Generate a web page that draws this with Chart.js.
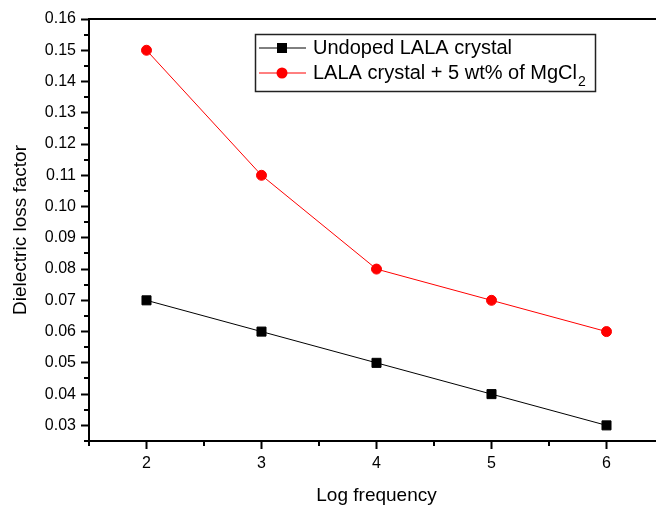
<!DOCTYPE html>
<html>
<head>
<meta charset="utf-8">
<script src="https://cdn.jsdelivr.net/npm/chart.js@4/dist/chart.umd.min.js"></script>
<style>
  html, body { margin: 0; padding: 0; background: #fff; }
  #wrap { width: 656px; height: 507px; overflow: hidden; }
</style>
</head>
<body>
<div id="wrap">
  <canvas id="chart" width="672" height="507"></canvas>
</div>
<script>
// log frequency values and loss factor for both samples
const logFreq = [2, 3, 4, 5, 6];
const undoped = [0.07, 0.06, 0.05, 0.04, 0.03];
const doped = [0.15, 0.11, 0.08, 0.07, 0.06];

const seriesNames = ['Undoped LALA crystal', 'LALA crystal + 5 wt% of MgCl'];
const xTicks = [2, 3, 4, 5, 6];
const xMinorTicks = [1.5, 2.5, 3.5, 4.5, 5.5, 6.5];
const yTicks = [0.03, 0.04, 0.05, 0.06, 0.07, 0.08, 0.09, 0.10, 0.11, 0.12, 0.13, 0.14, 0.15, 0.16];
const yMinorTicks = [0.025, 0.035, 0.045, 0.055, 0.065, 0.075, 0.085, 0.095, 0.105, 0.115, 0.125, 0.135, 0.145, 0.155];

const FONT = 'Liberation Sans, Arial, sans-serif';

// minor ticks, top frame line and the boxed legend
const decorations = {
  id: 'decorations',
  afterDraw(chart) {
    const ctx = chart.ctx;
    const area = chart.chartArea;
    const xs = chart.scales.x;
    const ys = chart.scales.y;
    ctx.save();
    ctx.strokeStyle = '#000';
    ctx.lineWidth = 2;
    ctx.beginPath();
    ctx.moveTo(area.left - 1, area.top);
    ctx.lineTo(area.right, area.top);
    xMinorTicks.forEach(v => {
      const px = Math.round(xs.getPixelForValue(v));
      ctx.moveTo(px, area.bottom);
      ctx.lineTo(px, area.bottom + 5);
    });
    yMinorTicks.forEach(v => {
      const py = Math.round(ys.getPixelForValue(v));
      ctx.moveTo(area.left, py);
      ctx.lineTo(area.left - 5, py);
    });
    ctx.stroke();

    // legend box
    const bx = 255.5, by = 34.5, bw = 340, bh = 57;
    ctx.lineWidth = 1.5;
    ctx.strokeStyle = '#222';
    ctx.strokeRect(bx, by, bw, bh);

    const rows = [48, 73];
    chart.data.datasets.forEach((ds, i) => {
      const y = rows[i];
      ctx.lineWidth = 1;
      ctx.strokeStyle = ds.borderColor;
      ctx.beginPath();
      ctx.moveTo(259, y);
      ctx.lineTo(306, y);
      ctx.stroke();
      ctx.fillStyle = ds.pointBackgroundColor;
      if (ds.pointStyle === 'rect') {
        ctx.fillRect(277, y - 5, 10, 10);
      } else {
        ctx.beginPath();
        ctx.arc(282, y, 5.5, 0, Math.PI * 2);
        ctx.fill();
      }
      ctx.fillStyle = '#000';
      ctx.font = '20px ' + FONT;
      ctx.textBaseline = 'middle';
      ctx.textAlign = 'left';
      ctx.fillText(seriesNames[i], 313, y);
      if (i === 1) {
        const w = ctx.measureText(seriesNames[i]).width;
        ctx.font = '14px ' + FONT;
        ctx.fillText('2', 313 + w + 1, y + 9);
      }
    });
    ctx.restore();
  }
};

new Chart(document.getElementById('chart'), {
  type: 'line',
  data: {
    datasets: [
      {
        label: seriesNames[0],
        data: logFreq.map((x, i) => ({ x: x, y: undoped[i] })),
        borderColor: '#000',
        backgroundColor: '#000',
        pointBackgroundColor: '#000',
        pointBorderColor: '#000',
        borderWidth: 1,
        pointStyle: 'rect',
        pointRadius: 6.4,
        pointBorderWidth: 1
      },
      {
        label: seriesNames[1] + '2',
        data: logFreq.map((x, i) => ({ x: x, y: doped[i] })),
        borderColor: '#ff0000',
        backgroundColor: '#ff0000',
        pointBackgroundColor: '#ff0000',
        pointBorderColor: '#ff0000',
        borderWidth: 1,
        pointStyle: 'circle',
        pointRadius: 5,
        pointBorderWidth: 1
      }
    ]
  },
  options: {
    responsive: false,
    animation: false,
    layout: { padding: { top: 19, right: 8, left: 0, bottom: 0 } },
    plugins: {
      legend: { display: false },
      tooltip: { enabled: false }
    },
    scales: {
      x: {
        type: 'linear',
        min: 1.5,
        max: 6.5,
        afterFit: s => { s.height = 66; },
        afterBuildTicks: s => { s.ticks = xTicks.map(v => ({ value: v })); },
        grid: { drawOnChartArea: false, tickLength: 8, tickWidth: 2, tickColor: '#000' },
        border: { color: '#000', width: 2 },
        ticks: {
          color: '#000',
          padding: 5,
          maxRotation: 0,
          font: { family: FONT, size: 16 },
          callback: v => String(v)
        },
        title: {
          display: true,
          text: 'Log frequency',
          color: '#000',
          font: { family: FONT, size: 19 },
          padding: { top: 0, bottom: 0 }
        }
      },
      y: {
        min: 0.025,
        max: 0.16,
        afterFit: s => { s.width = 89; },
        afterBuildTicks: s => { s.ticks = yTicks.map(v => ({ value: v })); },
        grid: { drawOnChartArea: false, tickLength: 8, tickWidth: 2, tickColor: '#000' },
        border: { color: '#000', width: 2 },
        ticks: {
          color: '#000',
          padding: 5,
          font: { family: FONT, size: 16 },
          callback: v => v.toFixed(2)
        },
        title: {
          display: true,
          text: 'Dielectric loss factor',
          color: '#000',
          font: { family: FONT, size: 19 },
          padding: { top: 9, bottom: 0 }
        }
      }
    }
  },
  plugins: [decorations]
});
</script>
</body>
</html>
